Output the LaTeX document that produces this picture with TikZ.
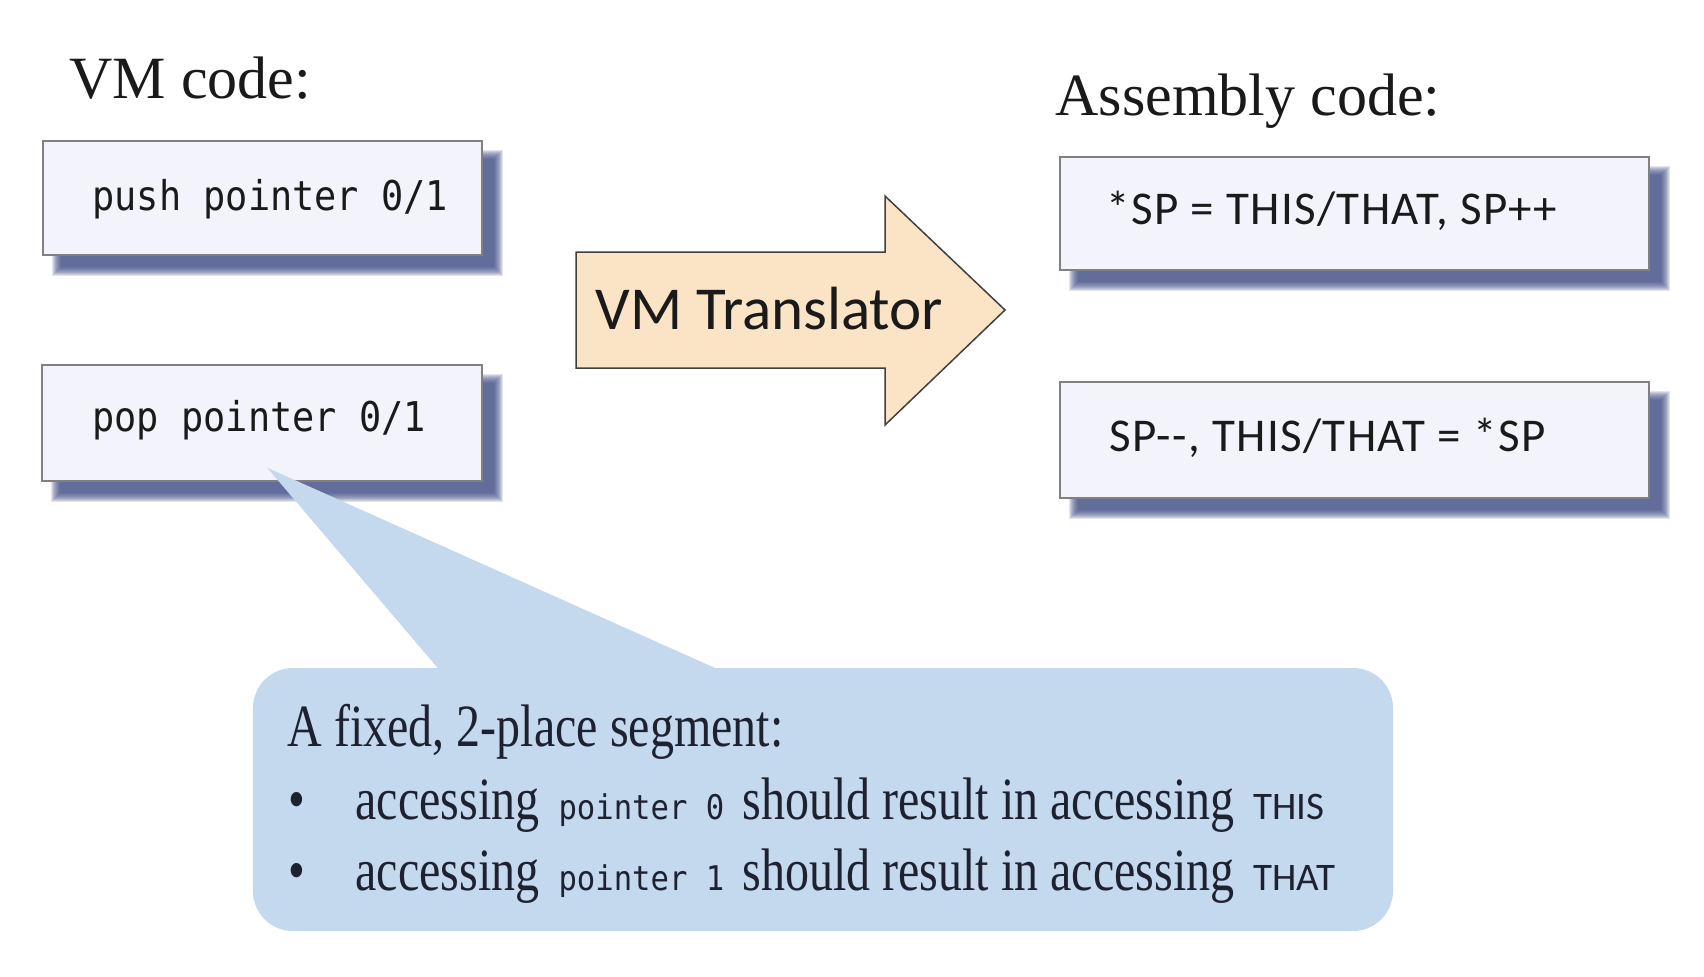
\documentclass[tikz,border=0pt]{standalone}
\usepackage{fontspec}
\setmainfont{Liberation Serif}
\newfontfamily\calfont[FakeStretch=0.8]{Liberation Serif}
\newfontfamily\codefont[FakeStretch=0.9]{DejaVu Sans Mono}
\newfontfamily\asmfont[LetterSpace=3]{Carlito}
\newfontfamily\asmplain{Carlito}
\usetikzlibrary{calc}
\definecolor{boxfill}{HTML}{F2F3FB}
\definecolor{boxline}{HTML}{808080}
\definecolor{shadowc}{HTML}{3F4C85}
\definecolor{arrowfill}{HTML}{FBE3C6}
\definecolor{arrowline}{HTML}{404040}
\definecolor{calloutc}{HTML}{C5D9EE}
\definecolor{inkc}{HTML}{1A1A1A}
\definecolor{calink}{HTML}{1E2230}
\pgfdeclarelayer{bgwhite}
\pgfdeclarelayer{shadowlayer}
\pgfsetlayers{bgwhite,shadowlayer,main}
\newcommand\softshadow[1]{%
  \begin{pgfonlayer}{shadowlayer}
    \foreach \i in {-5,...,4}{%
      \fill[shadowc,opacity=0.15] ($(#1.north west)+(15+\i,15+\i)$) rectangle ($(#1.south east)+(15-\i,15-\i)$);}
  \end{pgfonlayer}}
\tikzset{
  codebox/.style={draw=boxline, line width=1.5bp, fill=boxfill, rectangle, inner sep=0pt},
  titletext/.style={anchor=base west, text=inkc, font=\fontsize{60bp}{72bp}\selectfont},
  codetext/.style={anchor=base west, text=inkc, font=\codefont\fontsize{41bp}{48bp}\selectfont},
  asmtext/.style={anchor=base west, text=inkc, font=\asmfont\fontsize{47bp}{56bp}\selectfont},
  arrowshape/.style={draw=arrowline, line width=1.5bp, fill=arrowfill, line join=miter},
  calloutbox/.style={fill=calloutc, rectangle, rounded corners=40bp, inner sep=0pt},
  caltext/.style={anchor=base west, text=calink, font=\calfont\fontsize{60bp}{72bp}\selectfont},
}
\newcommand\codesmall{\codefont\fontsize{34bp}{40bp}\selectfont}
\newcommand\asmsmall{\asmplain\fontsize{39bp}{44bp}\selectfont}
\begin{document}
\begin{tikzpicture}[x=1bp,y=-1bp]
\begin{pgfonlayer}{bgwhite}
  \fill[white] (0,0) rectangle (1704,976);
\end{pgfonlayer}
\useasboundingbox (0,0) rectangle (1704,976);

% titles
\node[titletext] (vmtitle) at (66,98) {VM code:};
\node[titletext] (asmtitle) at (1052,115) {Assembly code:};

% VM code boxes
\node[codebox, minimum width=439bp, minimum height=114bp] (push) at (262.5,198) {};
\node[codebox, minimum width=440bp, minimum height=116bp] (pop) at (262,423) {};
\softshadow{push}
\softshadow{pop}
\node[codetext] (pushtxt) at (89,210) {push pointer 0/1};
\node[codetext] (poptxt) at (89,431) {pop pointer 0/1};

% assembly boxes
\node[codebox, minimum width=589bp, minimum height=113bp] (asm1) at (1354.5,213.5) {};
\node[codebox, minimum width=589bp, minimum height=116bp] (asm2) at (1354.5,440) {};
\softshadow{asm1}
\softshadow{asm2}
\node[asmtext] (asm1txt) at (1103,224) {*SP = THIS/THAT, SP++};
\node[asmtext] (asm2txt) at (1106,451) {SP-{}-{}, THIS/THAT = *SP};

% translator arrow
\draw[arrowshape] (576,252) -- (885,252) -- (885,196) -- (1005,310) -- (885,425) -- (885,368) -- (576,368) -- cycle;
\node[anchor=base west, text=inkc, font=\asmplain\fontsize{61bp}{70bp}\selectfont] (vmt) at (592,329) {VM Translator};

% callout
\node[calloutbox, minimum width=1140bp, minimum height=263bp] (callout) at (823,799.5) {};
\coordinate (tip) at ($(pop.south west)+(226,-14)$);
\coordinate (baseL) at ($(callout.north west)+(189,5)$);
\coordinate (baseR) at ($(callout.north west)+(473,5)$);
\fill[calloutc] (tip) -- (baseL) -- (baseR) -- cycle;

\node[caltext] (cl1) at (284,746) {A fixed, 2-place segment:};
\node[caltext] (bul1) at (285,819) {\textbullet};
\node[caltext] (bul2) at (285,890) {\textbullet};
\node[caltext] (cl2) at (352,819) {\makebox[203bp][l]{accessing}\makebox[184bp][l]{\codesmall pointer 0}\makebox[511bp][l]{should result in accessing}{\asmsmall THIS}};
\node[caltext] (cl3) at (352,890) {\makebox[203bp][l]{accessing}\makebox[184bp][l]{\codesmall pointer 1}\makebox[511bp][l]{should result in accessing}{\asmsmall THAT}};
\end{tikzpicture}
\end{document}
